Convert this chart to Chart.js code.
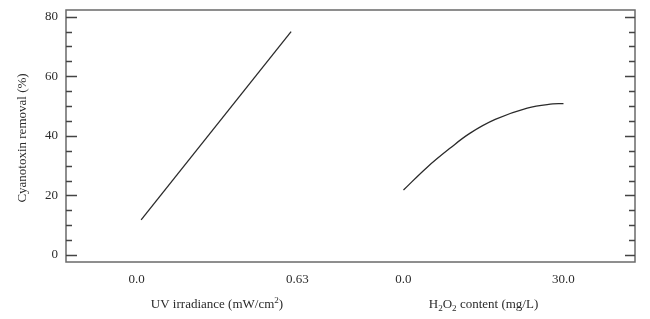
<!DOCTYPE html>
<html>
<head>
<meta charset="utf-8">
<script src="https://cdn.jsdelivr.net/npm/chart.js@4.4.0/dist/chart.umd.min.js"></script>
<style>
  html, body { margin: 0; padding: 0; background: #fff; }
  #wrap { width: 650px; height: 319px; position: relative; }
</style>
</head>
<body>
<div id="wrap"><canvas id="chart"></canvas></div>
<script>
// data
const uvIrradiance = [0.018, 0.605];
const uvRemoval = [11.8, 75.0];

const h2o2Content = [0, 4.4, 8.7, 12.5, 17.2, 23.2, 28.0, 30];
const h2o2Removal = [21.8, 29.4, 35.8, 40.9, 45.5, 49.3, 50.7, 50.8];

const uvTicks = [0, 0.63];
const uvTickLabels = ['0.0', '0.63'];
const h2o2Ticks = [0, 30];
const h2o2TickLabels = ['0.0', '30.0'];
const yLabelTicks = [0, 20, 40, 60, 80];

const FONT = '"Liberation Serif", "Times New Roman", serif';
const TXT = '#2b2b2b';

// draws text pieces with sub/superscript, centred on x
function drawRich(ctx, parts, cx, cy, size) {
  let w = 0;
  parts.forEach(p => {
    ctx.font = (p.sub || p.sup ? size * 0.7 : size) + 'px ' + FONT;
    p.w = ctx.measureText(p.t).width;
    w += p.w;
  });
  let x = cx - w / 2;
  ctx.textAlign = 'left';
  ctx.textBaseline = 'middle';
  parts.forEach(p => {
    ctx.font = (p.sub || p.sup ? size * 0.7 : size) + 'px ' + FONT;
    let dy = p.sub ? size * 0.3 : (p.sup ? -size * 0.35 : 0);
    ctx.fillText(p.t, x, cy + dy);
    x += p.w;
  });
}

const framePlugin = {
  id: 'frame',
  afterDraw(chart) {
    const ctx = chart.ctx;
    const a = chart.chartArea;
    const y = chart.scales.y;
    ctx.save();
    // frame
    ctx.strokeStyle = '#6a6a6a';
    ctx.lineWidth = 1.5;
    ctx.strokeRect(a.left, a.top, a.right - a.left, a.bottom - a.top);

    // inward ticks on left and right
    ctx.lineWidth = 1.3;
    ctx.strokeStyle = '#444';
    for (let v = 0; v <= 80; v += 5) {
      const py = Math.round(y.getPixelForValue(v)) + 0.5;
      const major = v % 20 === 0;
      ctx.beginPath();
      ctx.moveTo(a.left, py);
      ctx.lineTo(a.left + (major ? 11 : 6), py);
      ctx.moveTo(a.right, py);
      ctx.lineTo(a.right - (major ? 10 : 6), py);
      ctx.stroke();
    }

    // y tick labels
    ctx.fillStyle = TXT;
    ctx.font = '13px ' + FONT;
    ctx.textAlign = 'right';
    ctx.textBaseline = 'middle';
    yLabelTicks.forEach(v => ctx.fillText(String(v), a.left - 8, y.getPixelForValue(v)));

    // y title
    ctx.save();
    ctx.translate(23, 138);
    ctx.rotate(-Math.PI / 2);
    ctx.textAlign = 'center';
    ctx.fillText('Cyanotoxin removal (%)', 0, 0);
    ctx.restore();

    // x tick labels for both factors
    ctx.textAlign = 'center';
    const xu = chart.scales.xUV, xh = chart.scales.xH;
    uvTicks.forEach((v, i) => ctx.fillText(uvTickLabels[i], xu.getPixelForValue(v), 280));
    h2o2Ticks.forEach((v, i) => ctx.fillText(h2o2TickLabels[i], xh.getPixelForValue(v), 280));

    // x titles, centred between the two ticks
    const uvMid = (xu.getPixelForValue(uvTicks[0]) + xu.getPixelForValue(uvTicks[1])) / 2;
    const hMid = (xh.getPixelForValue(h2o2Ticks[0]) + xh.getPixelForValue(h2o2Ticks[1])) / 2;
    drawRich(ctx, [{t: 'UV irradiance (mW/cm'}, {t: '2', sup: true}, {t: ')'}], uvMid, 305, 13);
    drawRich(ctx, [{t: 'H'}, {t: '2', sub: true}, {t: 'O'}, {t: '2', sub: true}, {t: ' content (mg/L)'}], hMid, 305, 13);
    ctx.restore();
  }
};

new Chart(document.getElementById('chart'), {
  type: 'line',
  data: {
    datasets: [{
      label: 'UV irradiance',
      data: uvIrradiance.map((x, i) => ({x: x, y: uvRemoval[i]})),
      xAxisID: 'xUV',
      borderColor: '#2a2a2a',
      borderWidth: 1.3,
      pointRadius: 0,
      tension: 0
    }, {
      label: 'H2O2 content',
      data: h2o2Content.map((x, i) => ({x: x, y: h2o2Removal[i]})),
      xAxisID: 'xH',
      borderColor: '#2a2a2a',
      borderWidth: 1.3,
      pointRadius: 0,
      tension: 0.4
    }]
  },
  options: {
    responsive: true,
    maintainAspectRatio: false,
    animation: false,
    layout: { padding: { left: 0, top: 10, right: 15, bottom: 57 } },
    plugins: { legend: { display: false }, tooltip: { enabled: false } },
    scales: {
      xUV: { type: 'linear', display: false, min: -0.276, max: 1.951 },
      xH: { type: 'linear', display: false, min: -63.28, max: 43.41 },
      y: {
        type: 'linear',
        min: -2.35,
        max: 82.25,
        grid: { display: false, drawTicks: false },
        border: { display: false },
        ticks: { display: false },
        afterFit(scale) { scale.width = 66; }
      }
    }
  },
  plugins: [framePlugin]
});
</script>
</body>
</html>
